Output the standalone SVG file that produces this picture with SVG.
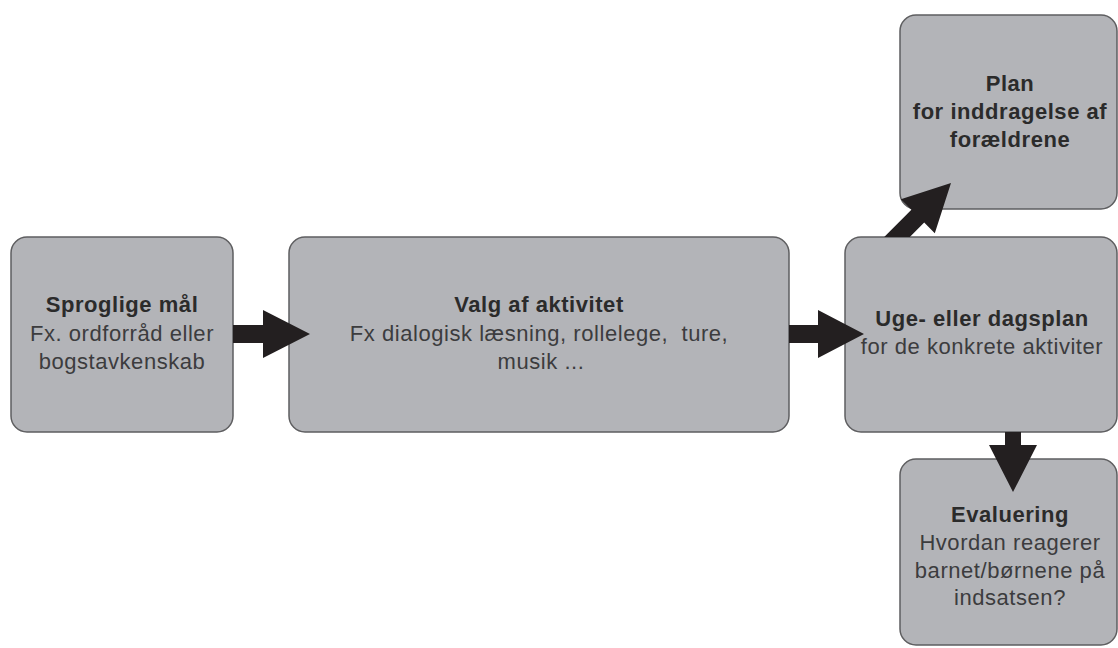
<svg xmlns="http://www.w3.org/2000/svg" width="1118" height="648" viewBox="0 0 1118 648">
<style>
.box{fill:#b3b4b8;stroke:#5e5e60;stroke-width:1.5}
.arr{fill:#231f20;stroke:none}
text{font-family:"Liberation Sans",Arial,sans-serif;font-size:22px;text-anchor:middle;letter-spacing:0.55px}
.b{font-weight:bold;fill:#2b2b2b}
.r{fill:#3c3c3e}
</style>
<rect width="1118" height="648" fill="#ffffff"/>
<g id="node-sproglige">
<rect class="box" x="11" y="237" width="222" height="195" rx="16"/>
<text x="122" y="312" class="b">Sproglige mål</text>
<text x="122" y="341" class="r">Fx. ordforråd eller</text>
<text x="122" y="369" class="r">bogstavkenskab</text>
</g>
<g id="node-valg">
<rect class="box" x="289" y="237" width="500" height="195" rx="16"/>
<text x="539" y="312" class="b">Valg af aktivitet</text>
<text x="539" y="341" class="r" xml:space="preserve">Fx dialogisk læsning, rollelege,  ture,</text>
<text x="541" y="369" class="r">musik ...</text>
</g>
<g id="node-plan">
<rect class="box" x="900" y="15" width="217" height="194" rx="16"/>
<text x="1010" y="91" class="b">Plan</text>
<text x="1010" y="119" class="b">for inddragelse af</text>
<text x="1010" y="147" class="b">forældrene</text>
</g>
<g id="node-uge">
<rect class="box" x="845" y="237" width="272" height="195" rx="16"/>
<text x="982" y="326" class="b">Uge- eller dagsplan</text>
<text x="982" y="354" class="r">for de konkrete aktiviter</text>
</g>
<g id="node-evaluering">
<rect class="box" x="900" y="459" width="217" height="186" rx="16"/>
<text x="1010" y="522" class="b">Evaluering</text>
<text x="1010" y="550" class="r">Hvordan reagerer</text>
<text x="1010" y="578" class="r">barnet/børnene på</text>
<text x="1010" y="605" class="r">indsatsen?</text>
</g>
<g id="connectors">
<polygon class="arr" points="233,325 263,325 263,310 310,334 263,358 263,343 233,343"/>
<polygon class="arr" points="789,325 818,325 818,310 864,334 818,358 818,343 789,343"/>
<polygon class="arr" points="1005,432 1021,432 1021,445 1037,445 1013,492 989,445 1005,445"/>
<polygon class="arr" points="884.2,237 911.4,209.8 900.8,199.2 951,183 934.8,233.2 924.2,222.6 909.8,237"/>
</g>
</svg>
